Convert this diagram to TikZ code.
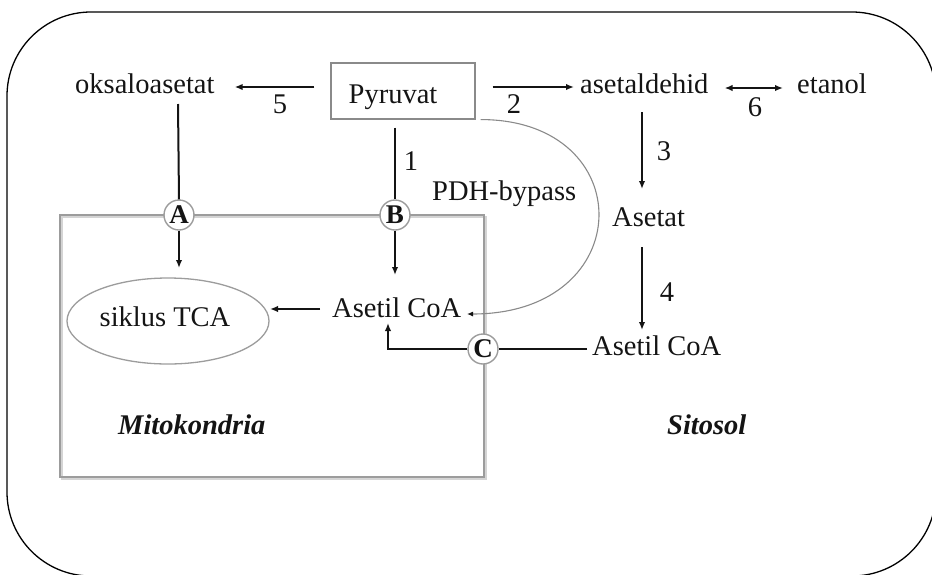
\documentclass[tikz,border=0pt]{standalone}
\usepackage{fontspec}
\setmainfont{Liberation Serif}
\usetikzlibrary{arrows.meta,calc,shapes.geometric}
\definecolor{ink}{HTML}{141414}
\definecolor{membrane}{HTML}{9C9C9C}
\definecolor{boxline}{HTML}{8A8A8A}
\definecolor{shadowgray}{HTML}{D4D4D4}

\begin{document}
\begin{tikzpicture}[x=1pt,y=-1pt,
  font=\fontsize{28.5}{34}\selectfont,
  every node/.style={inner sep=0pt, text=ink},
  lbl/.style={anchor=base},
  txt/.style={anchor=base west},
  link/.style={draw=ink, line width=2pt},
  flow/.style={link, -{Latex[length=8pt,width=6.5pt]}},
  gate/.style={circle, draw=membrane, fill=white, line width=1.4pt,
    minimum size=30pt, font=\fontsize{27}{30}\selectfont\bfseries},
  region/.style={txt, font=\fontsize{28.5}{34}\selectfont\bfseries\itshape}]

\useasboundingbox (0,0) rectangle (932,574);

% cell outline
\draw[line width=1.3pt, rounded corners=84pt] (7,12) rectangle (936,576);

% mitochondrion with a soft shadow
\draw[draw=shadowgray, line width=2pt] (61.5,216.5) rectangle (485.5,478.5);
\node[draw=membrane, line width=1.5pt, minimum width=424pt, minimum height=262pt,
  anchor=north west] (mito) at (59,214) {};

% metabolites
\node[txt] (oks) at (75,93) {oksaloasetat};
\node[draw=boxline, line width=1.1pt, minimum width=144pt, minimum height=56pt] (pbox) at (403,91) {};
\node[lbl] (pyr) at (393,103) {Pyruvat};
\node[txt] (ald) at (580,93) {asetaldehid};
\node[txt] (eta) at (797,93) {etanol};
\node[txt] (aset) at (612,226) {Asetat};
\node[txt] (acr) at (592,355) {Asetil CoA};
\node[txt] (aci) at (332,317) {Asetil CoA};
\node[ellipse, draw=membrane, line width=1.3pt, minimum width=202pt, minimum height=86pt] (tca) at (168,321) {};
\node[lbl] (tcat) at (165,326) {siklus TCA};
\node[txt] (pdh) at (432,200) {PDH-bypass};
\node[region] (mitolbl) at (118,434) {Mitokondria};
\node[region] (sito) at (667,434) {Sitosol};

% reaction numbers
\node[lbl] (n5) at (280,113) {5};
\node[lbl] (n2) at (514,113) {2};
\node[lbl] (n6) at (755,116) {6};
\node[lbl] (n1) at (411,170) {1};
\node[lbl] (n3) at (664,160) {3};
\node[lbl] (n4) at (667,301) {4};

% membrane transporters
\node[gate] (gA) at (179,215) {A};
\node[gate] (gB) at (395,215) {B};
\node[gate] (gC) at (483,349) {C};

% cytosolic reactions
\draw[flow] ($(pbox.west)+(-16,-4)$) -- ($(oks.base east)+(20,-6)$);
\draw[flow] ($(pbox.east)+(17,-4)$) -- ($(ald.base west)+(-6,-6)$);
\draw[link, {Latex[length=8pt,width=6.5pt]}-{Latex[length=8pt,width=6.5pt]}]
  ($(ald.base east)+(16,-5)$) -- ($(eta.base west)+(-14,-5)$);
\draw[flow] ($(ald.base west)+(62,19)$) -- ($(aset.base west)+(30,-37)$);
\draw[flow] ($(aset.base west)+(30,21)$) -- ($(acr.base west)+(50,-25)$);

% transport into the mitochondrion
\draw[link] ($(oks.base west)+(103,11)$) -- (gA.north);
\draw[flow] (gA.south) -- ($(tca.center)+(11,-53)$);
\draw[link] ($(pbox.south)+(-8,8)$) -- (gB.north);
\draw[flow] (gB.south) -- ($(aci.base west)+(63,-42)$);
\draw[link] ($(acr.base west)+(-5,-6)$) -- (gC.east);
\draw[flow] (gC.west) -| ($(aci.base west)+(56,6)$);
\draw[flow] ($(aci.base west)+(-12,-8)$) -- ($(tca.center)+(102,-12)$);

% PDH bypass
\draw[draw=boxline, line width=1.1pt, -{Latex[length=6pt,width=5pt,color=ink]}]
  ($(pbox.south east)+(5,0)$) .. controls +(160,0) and +(172,0) .. ($(aci.base west)+(135,-3)$);
\end{tikzpicture}
\end{document}
